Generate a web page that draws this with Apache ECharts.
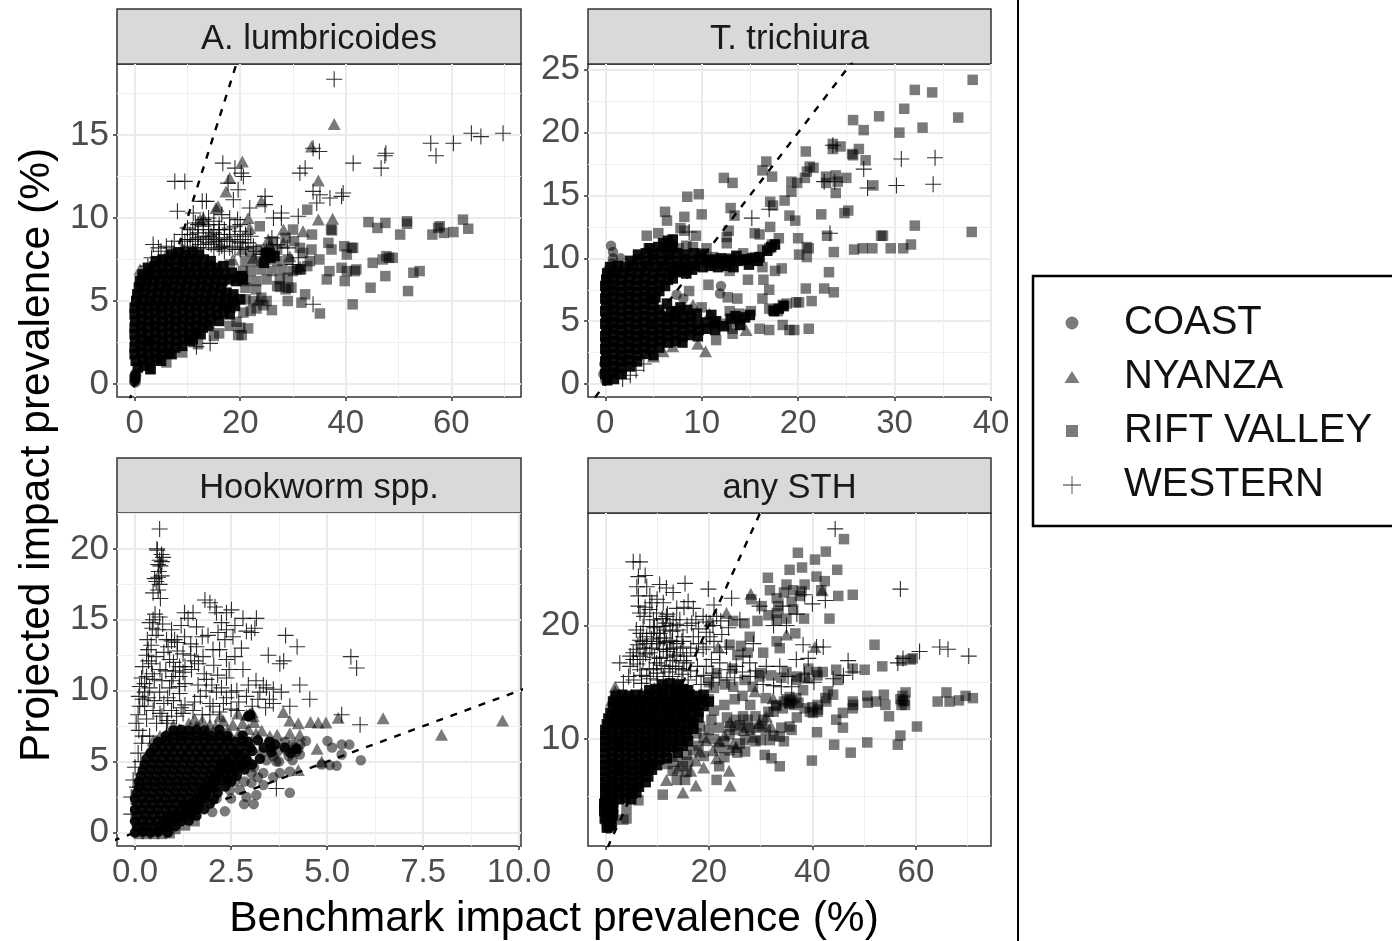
<!DOCTYPE html>
<html><head><meta charset="utf-8">
<style>html,body{margin:0;padding:0;background:#fff}#c{width:1392px;height:941px}</style>
<script src="https://cdn.jsdelivr.net/npm/echarts@6/dist/echarts.min.js"></script>
</head><body><div id="c"></div>
<script>
const regions = ['COAST','NYANZA','RIFT VALLEY','WESTERN'];
const panelTitles = ['A. lumbricoides','T. trichiura','Hookworm spp.','any STH'];
const identityLine = [[-20,-20],[120,120]];

// ---- A. lumbricoides
const lumbCoast = [[0,0.2],[0.1,0.3],[0.2,0.4],[-0.1,0.15],[0,0.5],[0.1,0.6],[0.2,0.25],[0.05,0.35],[0.3,0.5],[0.15,0.1],[-0.05,0.45],[0.25,0.65]];
const lumbNyanza = [[37.8,15.65],[33.5,14.3],[20.4,13.4],[34.8,12.25],[18,12.4],[17.3,11.6],[24,11],[15.8,10.7],[15.4,10.6],[13,10],[12.4,9.9],[21.5,10],[21.8,9.4],[34.8,9.9],[37.5,9.95],[25.3,8.7],[28.2,9.3],[31.9,9.2],[28.2,8.5],[1,6.9],[1,6.4],[0.7,5.7],[19.1,5.2],[17.1,4.9],[31.3,7.1],[29.4,7.7],[25.6,8.3],[22.5,7.6],[20.3,8.1],[16.2,8.4],[1.6,6.1],[2.4,6.6],[3.3,7],[4.6,7.5],[6,7.8],[7.5,8],[9,8.2],[14.5,9.1],[18.6,7.5],[23.5,5.1],[14,3.7]];
const lumbRift = [[32.7,10.5],[44.3,9.75],[47.5,9.7],[46,9.4],[51.6,9.8],[51.6,9.65],[50.3,9],[62.2,9.9],[63.2,9.35],[57.8,9.5],[57.5,9.4],[56.4,9],[58.6,9.1],[60.4,9.15],[37.2,9.3],[37.4,9.25],[30,9.3],[33.6,9],[36.7,8.5],[39.7,8.3],[41.1,8.2],[41.4,8.2],[40.2,7.8],[37.3,8.1],[33.5,8.1],[35,7.5],[48.2,7.6],[47.7,7.7],[47,7.5],[45.1,7.3],[48.9,7.6],[39.2,7],[42,6.9],[41.7,6.8],[40.2,6.8],[36.9,6.8],[36.4,6.3],[39.8,6.2],[47.5,6.5],[44.7,5.8],[54,6.8],[52.8,6.7],[51.8,5.6],[41.3,4.8],[35.1,4.25],[31.6,4.9],[32.3,5.4],[29.1,5.8],[29.7,5.8],[27.5,5.85],[29,5],[32.7,7.1],[31.3,6.9],[30.7,6.9],[31.9,7.9],[31.3,8.2],[26,4.45],[25,5],[24.4,4.75],[23.1,4.55],[21.5,3.35],[20.3,2.95],[19.6,2.95],[20.6,4.3],[19.3,3.75],[16,3.05],[25.6,7.9],[24.7,7.8],[20,6.5],[19.3,6.4],[23.7,9.5],
[22,8],[24,8.1],[25.5,8],[27,8.1],[21,7.4],[23,7.4],[25,7.5],[27,7.4],[29,7.5],[20.5,6.8],[22,6.8],[24,6.9],[26,6.8],[28,6.9],[30,6.8],[31.5,6.9],[21,6.2],[23,6.2],[25,6.3],[27.5,6.3],[29,6.4],[21,5.8],[23,5.7],[27,5.9],[28.6,5.7],[21,5.1],[22.5,5],[24,5.2],[22,4.4],[20,3.4],[18,3.5],[15,2.9],[12,2.4],[9,1.9],[6,1.3],[3,0.9],[18,7.2],[28.6,8.8],[30.2,8.6],[26.2,8.6],[33.2,7.4]];
const lumbCore = [[0.6,1],[1.9,1.1],[3,0.9],[0.2,1.4],[1.5,1.5],[2.8,1.4],[4.1,1.5],[5,1.4],[0,1.8],[1.3,1.9],[2.6,1.8],[3.9,1.9],[5.2,1.8],[6.5,1.9],[7,1.8],[0,2.2],[1.2,2.3],[2.5,2.2],[3.8,2.3],[5.1,2.2],[6.4,2.3],[7.7,2.2],[9,2.3],[0.1,2.6],[1.4,2.7],[2.7,2.6],[4,2.7],[5.3,2.6],[6.6,2.7],[7.9,2.6],[9.2,2.7],[10.5,2.6],[11,2.7],[0,3],[1.3,3.1],[2.6,3],[3.9,3.1],[5.2,3],[6.5,3.1],[7.8,3],[9.1,3.1],[10.4,3],[11.7,3.1],[12.5,3],[0,3.4],[1.2,3.5],[2.5,3.4],[3.8,3.5],[5.1,3.4],[6.4,3.5],[7.7,3.4],[9,3.5],[10.3,3.4],[11.6,3.5],[12.9,3.4],[14,3.5],[0.1,3.8],[1.4,3.9],[2.7,3.8],[4,3.9],[5.3,3.8],[6.6,3.9],[7.9,3.8],[9.2,3.9],[10.5,3.8],[11.8,3.9],[13.1,3.8],[14.4,3.9],[16,3.8],[0,4.2],[1.3,4.3],[2.6,4.2],[3.9,4.3],[5.2,4.2],[6.5,4.3],[7.8,4.2],[9.1,4.3],[10.4,4.2],[11.7,4.3],[13,4.2],[14.3,4.3],[15.6,4.2],[16.9,4.3],[18,4.2],[0,4.6],[1.2,4.7],[2.5,4.6],[3.8,4.7],[5.1,4.6],[6.4,4.7],[7.7,4.6],[9,4.7],[10.3,4.6],[11.6,4.7],[12.9,4.6],[14.2,4.7],[15.5,4.6],[16.8,4.7],[18.1,4.6],[19,4.7],[0.3,5],[1.6,5.1],[2.9,5],[4.2,5.1],[5.5,5],[6.8,5.1],[8.1,5],[9.4,5.1],[10.7,5],[12,5.1],[13.3,5],[14.6,5.1],[15.9,5],[17.2,5.1],[18.5,5],[20,5.1],[0.5,5.4],[1.8,5.5],[3.1,5.4],[4.4,5.5],[5.7,5.4],[7,5.5],[8.3,5.4],[9.6,5.5],[10.9,5.4],[12.2,5.5],[13.5,5.4],[14.8,5.5],[16.1,5.4],[17.4,5.5],[18.7,5.4],[0.8,5.8],[2.1,5.9],[3.4,5.8],[4.7,5.9],[6,5.8],[7.3,5.9],[8.6,5.8],[9.9,5.9],[11.2,5.8],[12.5,5.9],[13.8,5.8],[15.1,5.9],[16.4,5.8],[1,6.2],[2.3,6.3],[3.6,6.2],[4.9,6.3],[6.2,6.2],[7.5,6.3],[8.8,6.2],[10.1,6.3],[11.4,6.2],[12.7,6.3],[14,6.2],[15.3,6.3],[16.6,6.2],[17.9,6.3],[19.2,6.2],[20.5,6.3],[1.5,6.6],[2.8,6.7],[4.1,6.6],[5.4,6.7],[6.7,6.6],[8,6.7],[9.3,6.6],[10.6,6.7],[11.9,6.6],[13.2,6.7],[14.5,6.6],[15.8,6.7],[17.1,6.6],[18.4,6.7],[2.5,7],[3.8,7.1],[5.1,7],[6.4,7.1],[7.7,7],[9,7.1],[10.3,7],[11.6,7.1],[12.9,7],[14.2,7.1],[15.5,7],[16.8,7.1],[4,7.4],[5.3,7.5],[6.6,7.4],[7.9,7.5],[9.2,7.4],[10.5,7.5],[11.8,7.4],[13.1,7.5],[14.4,7.4],[7,7.8],[8.3,7.9],[9.6,7.8],[10.9,7.9],[12.2,7.8],[25,7.9],[25.7,7.6],[24.5,7.3],[26.5,7.7],[20.3,6.5]];
const lumbWestern = [[37.8,18.35],[69.8,15.1],[65.6,14.9],[63.8,15.1],[60.4,14.5],[56.1,14.5],[57.1,13.75],[47.6,13.9],[47.4,13.75],[46.7,13],[41.4,13.3],[35,14],[33.8,14.2],[32.3,13],[31.3,12.7],[39.5,11.5],[39.2,11.3],[37,11.2],[35.1,11.4],[33.8,11.6],[34.5,10.9],[27.8,10.3],[27.8,10],[26.3,10],[31,10.1],[24.7,11.3],[24.7,10.8],[21.8,10.6],[20.2,12.7],[20.6,12.5],[19,13],[16.7,13.3],[19.6,11.7],[17.7,12.1],[18.7,11.1],[13.6,11],[7.6,12.2],[9.5,12.2],[8.1,10.4],[11.1,10.3],[33.8,4.8],[11.7,2.25],[14.3,2.45],[4.5,8.2],[3.2,7.6],[10,8.7],[12,8.8],[14,8.9],[16,8.6],[18,8.7],[20,8.5],[11,9.3],[13,9.5],[15,9.1],[17,9.3],[21,8.2],[13,9.9],[15,9.8],[9,8.2],[11,8],[13,8.2],[15,8.1],[17,8],[19,8.1],[23,8],[24,7.8],[19.5,9.9],[16.5,10.2],[12.8,11],[26,8.8],[6,8.3],[7.5,8.6],[30,7.2],
[9.5,8.6],[10.5,8.3],[11.5,8.6],[12.5,8.4],[13.5,8.7],[14.5,8.4],[15.5,8.7],[16.5,8.3],[17.5,8.6],[18.5,8.3],[19.5,8.6],[20.5,8.7],[21.5,8.5],[22.5,8.3],[10.5,9],[12,9.1],[14,9.3],[16,9],[18,9],[19,9.5],[11.5,9.7],[14,10],[16,9.6],[18,10],[20,9.2],[22,8.9],[9,9],[7,8.2],[5,8],[3.5,8.4],[2.5,7.1],[25,8],[27,8.4],[29,8.2],[31,7.6],
[10,8.2],[12,8.2],[14,8.5],[16,8.2],[18,8.2],[20,8.1],[11,8.7],[13,8.9],[15,8.6],[17,8.8],[19,8.9],[21,9],[10,9.4],[12,9.6],[14,9.6],[16,9.3],[18,9.4],[20,9.6]];

// ---- T. trichiura
const triCoast = [[0.6,11],[0.8,10.5],[0.8,10],[1.6,10],[0.7,9.6],[12,7.8],[11.9,7.2],[8.1,6.8],[7.4,7.1],[0.5,8.5],[0.1,6.7],[0.3,9.1],[1,9.3],[0.2,8],[0.9,7.7],[0.1,7.3],[1.2,8.8],[0.4,6.1],[0.2,5.3],[0.3,4.5],[0,3.4],[0.1,2.5],[-0.1,1.6],[-0.2,0.8],[0,0.3],[0.2,0.5]];
const triNyanza = [[10.4,2.6],[9.6,3.2],[14.6,4.3],[9.1,6.3],[10.8,5.6],[5,2.2],[7,3],[6,2.6]];
const triRift = [[38.1,24.2],[32.1,23.4],[33.9,23.2],[31,21.9],[36.6,21.2],[25.7,21],[28.4,21.3],[32.9,20.4],[26.8,20.2],[30.5,20],[23.6,19.1],[23.6,18.7],[24.4,18.9],[26.3,18.7],[25.6,18.3],[25.7,18.2],[20.8,18.5],[27,17.8],[16.7,17.7],[16.3,17],[17.3,16.5],[21.2,17.3],[21.6,17.2],[20.9,16.9],[20.7,16.4],[19.3,16.1],[19.9,16],[12.3,16.4],[13.2,16],[22.9,16.5],[22.9,16],[23.9,16.6],[24.1,16.1],[25,16.4],[23.9,15.2],[27.8,15.8],[8.5,14.9],[9.7,15.1],[19.3,15.3],[18.6,14.6],[17.1,14.5],[17.4,14.2],[13,14],[25.2,13.8],[24.8,13.6],[22.4,13.5],[19.1,13.4],[19.7,13],[13.4,13.4],[10,13.5],[8.2,13.3],[6.2,13.7],[6.4,13],[17.1,12.5],[32.1,12.6],[38,12.1],[12.8,12.2],[15.5,12],[16,11.9],[18,11.6],[23,11.8],[20,11.6],[28.6,11.8],[28.8,11.8],[31.7,11.1],[30.9,10.8],[29.6,10.8],[27.7,10.8],[26.7,10.8],[25.8,10.7],[23.7,10.5],[20.9,10.9],[21.1,10.8],[20.1,10.3],[20.9,10.1],[17.3,11.1],[17,10.8],[16.3,10.7],[12.6,11.7],[12.6,11.2],[10.5,10.8],[4.3,11.8],[5.5,12],[8.2,12.2],[7.8,12.4],[9.4,11.8],[9.1,10.9],[12.9,10],[14.3,10.4],[15.5,10.1],[11.5,9.7],[16.3,9.3],[18.3,9.2],[17.6,9],[12.9,9],[14.8,8.3],[16.4,8.3],[23.2,8.9],[10.7,7.9],[8.7,7.4],[17,7.5],[20.8,7.6],[22.7,7.6],[23.7,7.3],[12.7,6.9],[13.7,6.8],[16.3,6.8],[21.4,6.6],[20.1,6.5],[19.8,6.5],[18.8,6.4],[18.4,6.3],[17.4,5.9],[17.9,5.8],[17,6],[15.1,5.8],[13.9,5.6],[12.9,5.8],[10,6.1],[21.1,4.4],[19.6,4.3],[19.1,4.3],[18.4,4.7],[17,4.3],[16,4.4],[13.2,4],[11.5,3.5],[12.6,4.8],[13.9,5.1],[13.2,4.4],[6.8,11.1],[7.6,10.8],[8.4,11],[4.5,10.8],[10.2,10.4],[11.2,10.1]];
const triCore = [[0.2,0.3],[0.9,0.4],[0,0.8],[0.8,0.9],[1.7,0.8],[0.1,1.3],[0.9,1.4],[1.7,1.3],[2.6,1.4],[0,1.8],[0.8,1.9],[1.6,1.8],[2.4,1.9],[3.3,1.8],[0.1,2.3],[0.9,2.4],[1.7,2.3],[2.5,2.4],[3.3,2.3],[4.2,2.4],[5,2.3],[0,2.8],[0.8,2.9],[1.6,2.8],[2.4,2.9],[3.2,2.8],[4,2.9],[4.8,2.8],[5.6,2.9],[0.1,3.3],[0.9,3.4],[1.7,3.3],[2.5,3.4],[3.3,3.3],[4.1,3.4],[4.9,3.3],[5.7,3.4],[6.5,3.3],[7.3,3.4],[8,3.3],[0,3.8],[0.8,3.9],[1.6,3.8],[2.4,3.9],[3.2,3.8],[4,3.9],[4.8,3.8],[5.6,3.9],[6.4,3.8],[7.2,3.9],[8,3.8],[8.8,3.9],[9.6,3.8],[0.1,4.3],[0.9,4.4],[1.7,4.3],[2.5,4.4],[3.3,4.3],[4.1,4.4],[4.9,4.3],[5.7,4.4],[6.5,4.3],[7.3,4.4],[8.1,4.3],[8.9,4.4],[9.7,4.3],[10.5,4.4],[11.4,4.3],[0,4.8],[0.8,4.9],[1.6,4.8],[2.4,4.9],[3.2,4.8],[4,4.9],[4.8,4.8],[5.6,4.9],[6.4,4.8],[7.2,4.9],[8,4.8],[8.8,4.9],[9.6,4.8],[10.4,4.9],[11.3,4.8],[0.1,5.3],[0.9,5.4],[1.7,5.3],[2.5,5.4],[3.3,5.3],[4.1,5.4],[4.9,5.3],[5.7,5.4],[6.5,5.3],[7.3,5.4],[8.1,5.3],[8.9,5.4],[0,5.8],[0.8,5.9],[1.6,5.8],[2.4,5.9],[3.2,5.8],[4,5.9],[4.8,5.8],[5.6,5.9],[6.8,5.7],[7.4,5.8],[0.1,6.3],[0.9,6.4],[1.7,6.3],[2.5,6.4],[3.3,6.3],[4.1,6.4],[5,6.3],[0,6.8],[0.8,6.9],[1.6,6.8],[2.4,6.9],[3.2,6.8],[4,6.9],[4.8,6.8],[5.2,6.9],[0.1,7.3],[0.9,7.4],[1.7,7.3],[2.5,7.4],[3.3,7.3],[4.1,7.4],[4.9,7.3],[5.6,7.4],[0,7.8],[0.8,7.9],[1.6,7.8],[2.4,7.9],[3.2,7.8],[4,7.9],[4.8,7.8],[5.6,7.9],[6.2,7.8],[0.1,8.3],[0.9,8.4],[1.7,8.3],[2.5,8.4],[3.3,8.3],[4.1,8.4],[4.9,8.3],[5.7,8.4],[6.5,8.3],[7,8.4],[0.2,8.8],[1,8.9],[1.8,8.8],[2.6,8.9],[3.4,8.8],[4.2,8.9],[5,8.8],[5.8,8.9],[6.6,8.8],[7.4,8.9],[8.4,8.8],[0.5,9.3],[1.3,9.4],[2.1,9.3],[2.9,9.4],[3.7,9.3],[4.5,9.4],[5.3,9.3],[6.1,9.4],[6.9,9.3],[7.7,9.4],[8.5,9.3],[9.3,9.4],[10.1,9.3],[10.9,9.4],[11.7,9.3],[12.5,9.4],[13.3,9.3],[14.9,9.5],[2.6,9.8],[3.4,9.9],[4.2,9.8],[5,9.9],[5.8,9.8],[6.6,9.9],[7.4,9.8],[8.2,9.9],[9,9.8],[9.8,9.9],[10.6,9.8],[11.4,9.9],[12.2,9.8],[13,9.9],[13.8,9.8],[14.6,9.9],[15.8,9.8],[3.4,10.3],[4.2,10.4],[5,10.3],[5.8,10.4],[6.6,10.3],[7.4,10.4],[8.2,10.3],[9.2,10.4],[10,10.3],[4.6,10.8],[5.5,10.9],[6.3,10.8],[7,10.9],[6.5,11.4],[6,11.2],[7,11.5],
[10.5,9.9],[11.3,9.6],[12,10],[12.8,9.7],[13.6,10.2],[14.4,9.9],[15.2,10],[16,10.1],[16.8,10.6],[17.2,10.9],[17.6,11.1],[11.5,5],[12.3,4.6],[13,5.2],[14,4.7],[15,5.5],[17.5,5.8],[18,6],[18.5,6.2],[13.5,5.4],[14.5,5.3],[11,5.5],[9.5,5.6],[8.5,5.9],[7.8,6.1],[6.4,6.4],[7,9],[8,9],[9,9.1]];
const triWestern = [[30.7,17.9],[34.2,18],[26.8,17.1],[30.2,15.8],[34,15.9],[27.2,15.6],[23.6,19],[22.7,16.1],[23.8,16.1],[17,13.9],[15.2,13.2],[23.3,12],[8.7,12.1],[3.2,1.1],[2.6,0.7],[1.8,0.4],[4,1.6]];

// ---- Hookworm spp.
const hookCoast = [[5.88,5.1],[5.58,6.2],[5.38,6.2],[5.01,6.45],[5.13,6],[5.38,5.5],[5.25,4.7],[5.07,4.75],[4.86,4.8],[4.45,6.45],[4.29,5.5],[4.03,2.8],[4.03,4.3],[3.77,4.2],[3.68,5],[3.34,4.2],[3.03,4.2],[3.03,3.5],[3.34,3.35],[3.16,2.65],[3.09,2],[2.84,2],[2.34,1.5],[2.01,1.45],[2.12,2.4],[2.47,3],[2.73,3],[2.9,2.5],[3.6,3.9],[3.94,5.8],[4.2,5.7],[3.42,5.1],[3.6,5.4],[3.3,5.6],[4.1,5.1],[4.25,5.9],[4.1,6.2],[3.7,5.7],[2.85,3.6],[3.2,3.9],[2.6,3.6],[2.5,2.4],[3.75,5],[4,5.4],[4.15,6],[3.9,6.4],[4.3,6.2],[3.1,4.6],[2.95,5]];
const hookNyanza = [[9.57,7.9],[6.46,8.05],[7.98,6.9],[5.29,8.1],[4.97,7.75],[4.77,7.75],[4.57,7.8],[4.25,7.7],[4.03,7.9],[3.86,8.5],[2.99,8.4],[2.9,8.3],[3.08,8.2],[2.68,8.4],[2.55,7.6],[2.21,8.2],[4.29,6.9],[4.74,5.9],[4.86,5],[4.25,4.4],[3.51,6.8],[4.03,7],[0.47,6.5],[0.82,7],[1.6,7.5],[1.95,7.6],[1.15,7.3],[1.4,7.7],[1.75,7.9],[2.1,7.5],[2.4,7.2],[2.7,7],[3.1,7.8],[2.95,7.3],[3.3,7.2],[3.7,6.9],[1,7.6],[0.65,6.8],[3.15,7],[2.5,6.8],[1.9,7.2],[2.2,6.9],[1.3,7.1],[0.9,6.7],[0.4,5.9],[2.3,7.9],[2.8,7.7],[3.05,8.5],[1.55,8]];
const hookRift = [[0.1,-0.1],[0.3,-0.1],[0.5,-0.1],[0.7,-0.1],[0.9,-0.05],[1.05,0.25],[1.3,0.5],[1.55,0.8],[0.2,0.2],[0.6,0.2]];
const hookCore = [[2.9,5.2],[2.75,4.7],[2.55,4.1],[2.4,3.7],[2.7,5.5],[3.05,5.75],[3.35,6],[3.5,6.4],[3.2,6.5],[2.95,6.4],[3.65,6.2],[2.4,5],[2.2,4.3],[2.1,3.6],[2,3.1],[1.85,2.7],[1.7,2.2],[1.55,1.9],[1.4,1.5],[1.2,1.1],[1,0.8],[0.8,0.6],[2.5,4.6],[2.3,4.7],[2.1,4.1],[1.95,3.4],[1.75,2.9],[1.6,2.4],[1.3,1.8],[1.1,1.3],[0.9,1],[0,0],[0.2,0.05],[0.4,0],[0.6,0.05],[0.85,0],[0.05,0.4],[0.25,0.45],[0.45,0.4],[0.65,0.45],[0.85,0.4],[1.05,0.45],[0,0.8],[0.2,0.85],[0.4,0.8],[0.6,0.85],[0.8,0.8],[1,0.85],[1.2,0.8],[1.4,0.85],[0.05,1.2],[0.25,1.25],[0.45,1.2],[0.65,1.25],[0.85,1.2],[1.05,1.25],[1.25,1.2],[1.45,1.25],[1.6,1.2],[0,1.6],[0.2,1.65],[0.4,1.6],[0.6,1.65],[0.8,1.6],[1,1.65],[1.2,1.6],[1.4,1.65],[1.6,1.6],[1.8,1.65],[0.05,2],[0.25,2.05],[0.45,2],[0.65,2.05],[0.85,2],[1.05,2.05],[1.25,2],[1.45,2.05],[1.65,2],[1.95,2.05],[0,2.4],[0.2,2.45],[0.4,2.4],[0.6,2.45],[0.8,2.4],[1,2.45],[1.2,2.4],[1.4,2.45],[1.6,2.4],[1.8,2.45],[2.05,2.4],[0.05,2.8],[0.25,2.85],[0.45,2.8],[0.65,2.85],[0.85,2.8],[1.05,2.85],[1.25,2.8],[1.45,2.85],[1.65,2.8],[1.85,2.85],[2.15,2.8],[0.1,3.2],[0.3,3.25],[0.5,3.2],[0.7,3.25],[0.9,3.2],[1.1,3.25],[1.3,3.2],[1.5,3.25],[1.7,3.2],[1.9,3.25],[2.1,3.2],[2.35,3.25],[0.1,3.6],[0.3,3.65],[0.5,3.6],[0.7,3.65],[0.9,3.6],[1.1,3.65],[1.3,3.6],[1.5,3.65],[1.7,3.6],[1.9,3.65],[2.1,3.6],[2.3,3.65],[2.5,3.6],[0.15,4],[0.35,4.05],[0.55,4],[0.75,4.05],[0.95,4],[1.15,4.05],[1.35,4],[1.55,4.05],[1.75,4],[1.95,4.05],[2.15,4],[2.35,4.05],[2.65,4],[0.2,4.4],[0.4,4.45],[0.6,4.4],[0.8,4.45],[1,4.4],[1.2,4.45],[1.4,4.4],[1.6,4.45],[1.8,4.4],[2,4.45],[2.2,4.4],[2.4,4.45],[2.6,4.4],[2.85,4.45],[0.25,4.8],[0.45,4.85],[0.65,4.8],[0.85,4.85],[1.05,4.8],[1.25,4.85],[1.45,4.8],[1.65,4.85],[1.85,4.8],[2.05,4.85],[2.25,4.8],[2.45,4.85],[2.65,4.8],[2.85,4.85],[3.05,4.8],[0.3,5.2],[0.5,5.25],[0.7,5.2],[0.9,5.25],[1.1,5.2],[1.3,5.25],[1.5,5.2],[1.7,5.25],[1.9,5.2],[2.1,5.25],[2.3,5.2],[2.5,5.25],[2.7,5.2],[3.25,5.2],[0.4,5.6],[0.6,5.65],[0.8,5.6],[1,5.65],[1.2,5.6],[1.4,5.65],[1.6,5.6],[1.8,5.65],[2,5.6],[2.2,5.65],[2.4,5.6],[2.6,5.65],[2.85,5.6],[3.55,5.65],[0.5,6],[0.7,6.05],[0.9,6],[1.1,6.05],[1.3,6],[1.5,6.05],[1.7,6],[1.9,6.05],[2.1,6],[2.3,6.05],[2.5,6],[2.75,6.05],[3,6],[3.55,6],[0.6,6.4],[0.8,6.45],[1,6.4],[1.2,6.45],[1.4,6.4],[1.6,6.45],[1.8,6.4],[2,6.45],[2.2,6.4],[2.4,6.45],[2.6,6.4],[2.8,6.45],[0.8,6.8],[1,6.85],[1.2,6.8],[1.4,6.85],[1.6,6.8],[1.8,6.85],[2,6.8],[2.2,6.85],[2.4,6.8],[2.8,6.85],[1,7.2],[1.2,7.25],[1.4,7.2],[1.6,7.25],[1.8,7.2],[2.2,7.25],[4.05,5.6],[4.2,5.9],[3.9,6],[3,8.3],[2.95,8.2]];
const hookWestern = [[0.64,21.4],[0.57,20],[0.69,19.6],[0.64,19.2],[0.73,19.4],[0.6,18.9],[0.66,18.8],[0.6,18],[0.69,18.1],[0.51,17.9],[0.64,17.5],[0.6,17.1],[0.47,16.9],[1.82,16.4],[1.95,16.2],[2.08,15.9],[2.12,15.5],[2.51,15.7],[2.38,15.5],[2.81,15.1],[3.16,15.1],[3.12,14.4],[3.03,14.1],[1.29,15.5],[1.51,15.5],[1.38,15.1],[1.6,14.5],[0.47,15],[0.38,14.8],[0.64,15.2],[0.6,14.3],[0.82,13.6],[0.95,13.5],[0.86,13.1],[1.03,13.6],[1.29,13.8],[2.16,14.1],[2.38,14.3],[2.55,13.8],[2.34,13.6],[2.77,13],[3.92,13.9],[4.22,13.1],[3.47,12.5],[3.77,11.9],[3.87,12.1],[5.62,12.4],[5.77,11.6],[2.03,12.9],[1.77,12.4],[2.38,12.2],[2.81,11.5],[1.6,13.1],[1.25,12.6],[0.34,12.9],[0.43,11.9],[1.16,11.7],[1.47,11.5],[0.99,11],[1.16,11],[1.86,10.8],[2.38,10.9],[3.34,10.4],[3.42,10.2],[4.29,10.4],[3.81,9.9],[4.55,9.4],[0.3,11],[0.17,10.9],[0.38,10.2],[0.64,9.9],[1.16,9.8],[1.64,10.4],[2.12,9.9],[2.51,9.9],[2.38,9.5],[2.9,9.6],[3.2,9.4],[3.6,9.1],[4.03,8.9],[0.2,9.4],[0.34,9.5],[0.47,8.6],[0.03,7.7],[0.56,7.7],[1.08,8.2],[2.03,8.9],[1.51,8.6],[5.38,8.3],[5.86,7.6],[3.68,3.1],[0.2,6.8],[0.17,6.3],[0.08,5.6],[0,4.6],[-0.05,3.7],[-0.1,2.5],[-0.1,1.3],[0.12,8.9],[0.38,6.8],[0.82,7.7],[0.55,13.9],[0.42,13.2],[0.72,14.7],[0.9,12.2],[1.1,12.8],[1.45,13.3],[1.9,13.9],[2.2,12.9],[2.6,12.4],[0.25,10.5],[0.45,11.2],[0.7,10.7],[0.9,10.2],[1.3,10.5],[1.7,9.6],[1.95,9.1],[2.3,9.1],[2.7,9.2],[3.05,8.9],[3.4,8.8],[0.3,8],[0.65,8.4],[1.3,9],[1.75,8.3],[2.5,8.7],[1,9.3],[0.75,9.1],[0.25,9.9],[1.05,11.4],[1.25,11.3],[0.55,12.4],[0.35,12.1],[1.55,12.1],[1.8,11.2],[2.15,11.1],[3.15,10.7],[3.6,10.1],[0.1,7.2],[0.15,5],[0.05,3.2],
[0.58,19.9],[0.7,19.1],[0.62,18.4],[0.55,17.7],[0.66,16.5],[0.52,15.4],[0.45,14.4],[0.32,13.6],[0.3,12.5],[0.2,11.7],[0.12,10.3],[0.1,9.6],[0.08,8.3],[0.25,8.9],[0.5,9.3],[0.5,10.8],[0.65,11.5],[0.8,11.4],[0.95,10.7],[1.15,10.3],[1.3,11.7],[1.45,12.5],[1.0,12],[0.75,12.7],[0.95,14.3],[1.2,14.6],[1.1,13.4],[0.85,9.5],[0.95,8.6],[1.25,8.4],[1.55,9.2],[1.65,11.9],[1.85,10],[2,10.4],[2.25,10.2],[2.65,10],[2.95,10.4],[3.25,9.9],[3.5,9.4],[2.2,8.5],[2.65,8.6],[1.95,8.3],[1.2,8.8],[0.7,8.2],[0.85,7.9],[2.45,11.5],[2.05,11.8],[1.75,13.8],[2.25,14.8],[2.6,14.6],[2.9,14.2]];

// ---- any STH
const anyCoast = [[0.3,2.2],[0.6,2.1],[0.9,2.3],[1.2,2.2],[0,2.7],[0.4,2.8],[0.8,2.6],[1.2,2.8],[1.6,2.7],[-0.1,3.2],[0.3,3.3],[0.7,3.2],[1.1,3.3],[1.5,3.2],[-0.2,3.7],[0.2,3.8],[0.6,3.7],[1,3.8],[1.5,3.7],[-0.2,4.2],[0.2,4.3],[0.6,4.2],[1,4.3],[1.5,4.2],[0,4.7],[0.3,5.2],[0,5.7],[0.3,6.2]];
const anyNyanza = [[41.9,23.1],[28.1,22.8],[35,19.2],[40.5,18.1],[39.2,15.4],[28.9,14.2],[32.4,13.6],[24.1,5.9],[23.9,7.2],[17.5,5.9],[15,5.3],[1.9,14.6],[1.9,14.2],[1.2,13.4],[23.4,21.1],[20.2,20.4],[21.8,18.1],[25.3,9.3],[21.5,8.3],[24.7,9.6],[28.5,10.2],[31.1,12],[24.1,11.5],[20.8,9],[11.8,6.4],[18.3,8.9],[19,7.5],[22,9.8],[17.5,8.1],[26.8,10.8],[29.7,11.4],[32,11.1],[23,10.3],[19.5,9.9],[3.5,13.6],[5,13.9],[7,14.1],[2.5,13.2],[11.5,14.8],[14,15],[9.5,14.5],[16.5,7.2],[14,7.4],[13,8.5]];
const anyRift = [[46.1,27.6],[37.2,26.4],[42.6,26.5],[40.5,25.8],[38,25.1],[35.6,24.9],[44.8,24.9],[31.4,24.2],[40.8,24.3],[42.4,23.9],[35,23.6],[31.8,23.1],[38.5,23.6],[36.3,23.1],[41.7,23.1],[45,22.6],[47.8,22.7],[33.1,22.4],[28.2,22.3],[37.6,22.6],[30.2,21.7],[33.4,21.7],[36.3,21.4],[33.1,21.1],[35,20.6],[38.4,20.6],[43.3,20.6],[33.1,20.5],[29.4,20.4],[26.9,20.2],[24.7,20.4],[36.7,19.3],[27.9,19],[52,18.3],[33.1,18.6],[33.7,18],[30.5,17.6],[24,18.3],[59.4,17.1],[59,17],[57.2,16.9],[53.5,16.4],[50.1,16.1],[47.8,16.2],[44.6,16.1],[40.8,15.9],[39.2,16.2],[45,15.2],[36.9,15.2],[29.8,15.5],[26.9,15.2],[23.1,14.8],[65.9,14.1],[71,13.6],[69.6,13.8],[68.3,13.4],[66.5,13.3],[64.2,13.3],[58,14.1],[57.8,13.4],[57.5,13.3],[57.2,13],[53.8,13.9],[54.1,13],[54.8,12],[50.6,13.8],[50.7,13.2],[52.3,13.3],[47.8,13.3],[47.8,12.7],[44,13.9],[42.7,13.3],[41.1,12.6],[40.1,12.3],[39.5,12.4],[45.9,12.3],[44.6,11.7],[45.9,11],[40.9,10.6],[60.2,11.1],[57,10.3],[56.5,9.5],[50.6,9.7],[44.2,9.5],[47.4,8.8],[39.9,8.1],[33.7,7.6],[32.1,8.3],[30.8,8.6],[38.2,14.3],[35.6,13.1],[34.3,12.7],[36.9,13.6],[35.6,13.7],[33.7,10.2],[31.8,9.9],[35.6,11.1],[30.2,11.1],[26.6,12],[25.3,11.7],[24.1,11.1],[21.5,6.4],[15.7,7.1],[13.8,6.4],[11.1,5.1],[6.4,4.6],[4.1,3],[3.5,2.9],[4.1,3.9],[15.4,6.4],[24.7,14.6],[18.3,11.1],[17.6,10.5],[13.1,9.3],[15.7,8.6],[28,13],[31,13.6],[33,13],[30,9.9],[27,8.9],[24,9],[22,7.6],[19,8.5],[27,11],[29,12],[21,12.5],[23,13],[20,13.5],
[34.5,13.3],[35,13.5],[35.5,13.2],[36,13.4],[36.5,13],[37.3,13.2],[33,12.9],[32.5,12.4],[31.5,12.4],[30.5,11.7],[29,11],[27.5,11.7],[26,11.2],[25,10.8],[24,10.4],[23,9.8],[22,9.2],[21,10],[20,10.8],[19,10.1],[18,9.4],[17,9],[16,8],[15,7.6],[14,8],[13,7.2],[12,7.8],[29,9.8],[28,10.8],[27,9.9],[26,9.6],[25.5,8.8],[23,8.4],[31,10.8],[32.5,10.3],[34,11],[34.5,9.8],[36,10.8],[37,11.9],[38.5,12.7],[40,12.8],[41,13],[42.5,13.6],[43,14.2],[21,14.5],[20,15],[25,13.5],[26.5,13.8],[28.5,14.6],[30,15.8],[32,15.6],[34,15.4],[35,15.9],[37,15.5],[38.5,15.4],[41,15.6],[42,15.9],[25.5,17.4],[27.5,17.6],[24.5,16.2],[26.2,18.2],[21.5,15.8],[57.4,13.8],[57.9,13],[57,13.5],[47.9,13],[41,12.4],[31.5,20.9],[34.5,22.9],[36,22.1],[37.9,23],[23.5,11.9],[22,11],[20.5,11.7]];
const anyCore = [[0,4.7],[1.3,4.8],[2.6,4.7],[3.9,4.8],[5,4.7],[0,5.2],[1.3,5.3],[2.6,5.2],[3.9,5.3],[5.2,5.2],[6,5.3],[0,5.7],[1.3,5.8],[2.6,5.7],[3.9,5.8],[5.2,5.7],[6.5,5.8],[0,6.2],[1.3,6.3],[2.6,6.2],[3.9,6.3],[5.2,6.2],[6.5,6.3],[7.8,6.2],[0,6.7],[1.3,6.8],[2.6,6.7],[3.9,6.8],[5.2,6.7],[6.5,6.8],[8.3,6.7],[0,7.2],[1.3,7.3],[2.6,7.2],[3.9,7.3],[5.2,7.2],[6.5,7.3],[7.8,7.2],[9,7.3],[0,7.7],[1.3,7.8],[2.6,7.7],[3.9,7.8],[5.2,7.7],[6.5,7.8],[7.8,7.7],[9.1,7.8],[10,7.7],[0,8.2],[1.3,8.3],[2.6,8.2],[3.9,8.3],[5.2,8.2],[6.5,8.3],[7.8,8.2],[9.1,8.3],[10.4,8.2],[11.9,8.3],[0,8.8],[1.3,8.9],[2.6,8.8],[3.9,8.9],[5.2,8.8],[6.5,8.9],[7.8,8.8],[9.1,8.9],[10.4,8.8],[11.7,8.9],[14,8.8],[0,9.3],[1.3,9.4],[2.6,9.3],[3.9,9.4],[5.2,9.3],[6.5,9.4],[7.8,9.3],[9.1,9.4],[10.4,9.3],[11.7,9.4],[13,9.3],[15,9.4],[0,9.8],[1.3,9.9],[2.6,9.8],[3.9,9.9],[5.2,9.8],[6.5,9.9],[7.8,9.8],[9.1,9.9],[10.4,9.8],[11.7,9.9],[13,9.8],[14.3,9.9],[16,9.8],[0,10.3],[1.3,10.4],[2.6,10.3],[3.9,10.4],[5.2,10.3],[6.5,10.4],[7.8,10.3],[9.1,10.4],[10.4,10.3],[11.7,10.4],[13,10.3],[14.3,10.4],[15.8,10.3],[0,10.8],[1.3,10.9],[2.6,10.8],[3.9,10.9],[5.2,10.8],[6.5,10.9],[7.8,10.8],[9.1,10.9],[10.4,10.8],[11.7,10.9],[13,10.8],[14.3,10.9],[15.6,10.8],[17,10.9],[0.3,11.3],[1.6,11.4],[2.9,11.3],[4.2,11.4],[5.5,11.3],[6.8,11.4],[8.1,11.3],[9.4,11.4],[10.7,11.3],[12,11.4],[13.3,11.3],[14.6,11.4],[15.9,11.3],[17,11.4],[0.6,11.8],[1.9,11.9],[3.2,11.8],[4.5,11.9],[5.8,11.8],[7.1,11.9],[8.4,11.8],[9.7,11.9],[11,11.8],[12.3,11.9],[13.6,11.8],[14.9,11.9],[16.2,11.8],[18,11.9],[1,12.3],[2.3,12.4],[3.6,12.3],[4.9,12.4],[6.2,12.3],[7.5,12.4],[8.8,12.3],[10.1,12.4],[11.4,12.3],[12.7,12.4],[14,12.3],[15.3,12.4],[16.6,12.3],[18,12.4],[1.5,12.8],[2.8,12.9],[4.1,12.8],[5.4,12.9],[6.7,12.8],[8,12.9],[9.3,12.8],[10.6,12.9],[11.9,12.8],[13.2,12.9],[14.5,12.8],[15.8,12.9],[17.1,12.8],[19,12.9],[1.5,13.3],[2.8,13.4],[4.1,13.3],[5.4,13.4],[6.7,13.3],[8,13.4],[9.3,13.3],[10.6,13.4],[11.9,13.3],[13.2,13.4],[14.5,13.3],[15.8,13.4],[17.1,13.3],[18.4,13.4],[20,13.3],[2,13.8],[3.3,13.9],[4.6,13.8],[5.9,13.9],[7.2,13.8],[8.5,13.9],[9.8,13.8],[11.1,13.9],[12.4,13.8],[13.7,13.9],[15,13.8],[16.3,13.9],[17.6,13.8],[19,13.9],[8.5,14.3],[9.8,14.4],[11.1,14.3],[12.4,14.4],[13.7,14.3],[15,14.4],[16,14.3],[11,14.8],[12.5,14.9],[14,14.8],[0.3,2.2],[0.8,2.4],[1.2,2.5],[-0.1,3],[0.5,3.1],[1.1,3],[1.5,3.3],[-0.2,3.7],[0.4,3.8],[1,3.7],[1.5,3.9],[-0.2,4.3],[0.4,4.2],[1,4.3],[1.5,4.4]];
const anyWestern = [[44.4,28.5],[57,23.2],[5.4,25.6],[6.7,25.6],[6.4,24.3],[7.7,24.4],[6.1,23.4],[8,23.4],[10.5,23.6],[15.4,23.7],[19.9,23.2],[24.4,22.4],[16,22.1],[13.1,22.9],[11.8,23.3],[6.4,21.7],[8.6,21.4],[6.7,21.1],[11.2,22],[70.2,17.3],[64.6,18.1],[66.2,17.9],[60.7,17.7],[57.5,17.1],[56.5,16.7],[46.9,16.9],[47.8,15.9],[42.1,18.1],[40.8,18.1],[38.2,18.3],[39.2,17.1],[36.9,17],[33.7,16.4],[31.1,16.4],[35.3,15.5],[32.5,14.7],[29.8,21.7],[38.5,22.7],[34.3,21.7],[28.6,18.4],[26.6,17.3],[23.4,18.1],[26,20.5],[21.5,20.8],[18.9,20.8],[16.7,20.2],[2.8,16.7],[4.8,17.3],[6,17.9],[8,18.4],[9.3,19.3],[11.2,19.9],[12.5,18.7],[15,19],[17.6,17.6],[10.5,17.9],[13.8,17.3],[15.7,16.7],[19.5,16.4],[22.1,16.7],[25.3,16.4],[27.9,16.7],[7.3,19.9],[6,19.6],[13.1,20.5],[9.3,20.5],[11.2,17.9],[7.3,17],[5.4,17],[6.7,18.7],[9.9,18.6],[11.8,20.8],[14.4,20.5],[15,18.1],[17,19],[8.6,19.9],[5.4,17.6],[20.2,19],[18.9,17.9],[8.6,22.6],[9.9,21.1],[6.4,22.6],[10.5,19.3],[12.5,17.9],[8.6,17.6],[15.7,17.3],[13.8,18.4],[22.1,17.6],[19.5,18.1],[17.6,15.5],[20.8,15.8],[24.1,16.1],[6.7,17.3],[9.9,16.7],[12.5,16.4],[15,16.1],[6.7,16.1],[4.8,16.4],[8,15.5],[10,15.8],[11.5,16.2],[13,15.5],[16,15.2],[18.5,14.8],[7,14.9],[5.5,15.2],[11.5,19.6],[10.6,18.9],[13,19.5],[12,21],[10,22.3],[7.5,20.8],[17,21.5],[21,21.8],[20.5,17],[18,19.7],
[7,15.6],[8.5,16.2],[9.5,17.2],[10.8,16.5],[11.8,17.2],[13,16.9],[14.2,16.2],[15.2,16.9],[16.5,16],[17.8,16.4],[19,15.6],[20.5,15],[22,15.4],[23.5,15.2],[25,15.4],[26.5,15.9],[6.2,16.6],[7.8,17.5],[9,18],[10.2,18.4],[11.8,18.5],[13.2,18],[14.5,17.6],[16.5,18],[18,18.4],[19.5,19.4],[21,18.6],[22.5,19.2],[23.8,19.8],[8,19],[9.5,19.8],[11,20.6],[12.5,20],[14,19.6],[15.8,20],[17.5,20.5],[19.5,20.3],[20.8,20],[22.3,20.4],[6.3,18.3],[7.2,18.6],[7.7,21.6],[9,22],[13.8,21.5],[15.2,21.6],[4.5,15.5],[3.5,15],[29,16],[28,15.5],[30.5,14.8],[34,14.6],[36,14.6],[38.5,15.7],[40.3,15],[44,15.3],[46,15.6],[35,20],[32.5,20],[37,21],[40,21.9],[42.5,22.2],
[10,15.2],[11.2,15.5],[12.3,15.9],[13.6,16.4],[14.8,15.7],[8.7,15.3],[9.3,16.1],[10.5,17.1],[12,17.7],[13.3,17.4],[14.8,18.6],[11.4,18.9],[12.9,18.6],[10,19.9],[11.7,20.2],[13.7,20.1],[8.9,18.8],[7.5,18],[6.8,19.3]];

const coastIcon = 'path://M-9 -9h0.01v0.01zM9 9h0.01v0.01zM6.5 0A6.5 6.5 0 1 1 -6.5 0A6.5 6.5 0 1 1 6.5 0Z';
const nyanzaIcon = 'path://M-9 -9h0.01v0.01zM9 9h0.01v0.01zM0 -6L7.5 6H-7.5Z';
const riftIcon = 'path://M-9 -9h0.01v0.01zM9 9h0.01v0.01zM-6 -6H6V6H-6Z';
const westernIcon = 'path://M-0.4 -9H0.4V-0.4H9V0.4H0.4V9H-0.4V0.4H-9V-0.4H-0.4Z';
const plusPath = 'path://M-0.55 -8H0.55V-0.55H8V0.55H0.55V8H-0.55V0.55H-8V-0.55H-0.55Z';

const marks = [
 {sym:'circle',size:10.5},
 {sym:'triangle',size:[13,12]},
 {sym:'rect',size:10.5},
 {sym:plusPath,size:16}
];
const panels = [
 {left:117,top:64,w:404,h:333,xr:[-3.35,73.2],yr:[-0.78,19.27],xt:[0,20,40,60],yt:[0,5,10,15],xm:[10,30,50,70],ym:[2.5,7.5,12.5,17.5],d:[lumbCoast,lumbNyanza,lumbRift,lumbWestern],core:lumbCore,coreRegion:2},
 {left:588,top:64,w:403,h:333,xr:[-1.79,40],yr:[-1.03,25.46],xt:[0,10,20,30,40],yt:[0,5,10,15,20,25],xm:[5,15,25,35],ym:[2.5,7.5,12.5,17.5,22.5],d:[triCoast,triNyanza,triRift,triWestern],core:triCore,coreRegion:2},
 {left:117,top:513,w:404,h:333,xr:[-0.47,10.05],yr:[-0.95,22.53],xt:[0,2.5,5,7.5,10],yt:[0,5,10,15,20],xm:[1.25,3.75,6.25,8.75],ym:[2.5,7.5,12.5,17.5,22.5],fmt:v=>v.toFixed(1),d:[hookCoast,hookNyanza,hookRift,hookWestern],core:hookCore,coreRegion:0},
 {left:588,top:513,w:403,h:333,xr:[-3.34,74.5],yr:[0.58,29.9],xt:[0,20,40,60],yt:[10,20],xm:[10,30,50,70],ym:[5,15,25],d:[anyCoast,anyNyanza,anyRift,anyWestern],core:anyCore,coreRegion:2}
];

const FONT = '"Liberation Sans",Arial,sans-serif';
const grid=[],xAxis=[],yAxis=[],series=[],graphic=[];
const major={show:true,lineStyle:{color:'#ebebeb',width:2}};
const minor={show:true,lineStyle:{color:'#efefef',width:1}};
const mainAxis=(i,r,t,fmt,pos,isY)=>({type:'value',gridIndex:i,position:pos,min:r[0],max:r[1],scale:true,
  axisLine:{show:false,onZero:false},
  axisTick:{show:true,length:4,customValues:t,lineStyle:{color:'#333',width:1.5}},
  axisLabel:{show:true,customValues:t,color:'#4d4d4d',fontSize:isY?35:33,fontFamily:FONT,margin:isY?8:10,padding:isY?[6,0,0,0]:0,formatter:fmt||(v=>String(v)),hideOverlap:false},
  splitLine:major,minorTick:{show:false},minorSplitLine:{show:false}});
const minorAxis=(i,r,t,pos)=>({type:'value',gridIndex:i,position:pos,min:r[0],max:r[1],scale:true,
  axisLine:{show:false,onZero:false},axisTick:{show:false,customValues:t},
  axisLabel:{show:false,customValues:t},splitLine:minor});

panels.forEach((p,i)=>{
  grid.push({left:p.left,top:p.top,width:p.w,height:p.h,show:true,backgroundColor:'#fff',borderColor:'#333',borderWidth:1.5,containLabel:false});
  graphic.push({type:'rect',shape:{x:p.left,y:p.top-55,width:p.w,height:55},style:{fill:'#d9d9d9',stroke:'#333',lineWidth:1.5},silent:true});
  graphic.push({type:'text',x:p.left+p.w/2,y:p.top-25,style:{text:panelTitles[i],fill:'#1a1a1a',font:'34.5px '+FONT,textAlign:'center',textVerticalAlign:'middle'},silent:true});
});
panels.forEach((p,i)=>{
  xAxis.push(minorAxis(i,p.xr,p.xm,'top'));
  yAxis.push(minorAxis(i,p.yr,p.ym,'right'));
});
const alphaOf=k=>k===3?0.82:0.52;
panels.forEach((p,i)=>{
  xAxis.push(mainAxis(i,p.xr,p.xt,p.fmt,'bottom',false));
  yAxis.push(mainAxis(i,p.yr,p.yt,null,'left',true));
  const scatter=(name,data,m,opacity,z)=>series.push({type:'scatter',name,xAxisIndex:i+4,yAxisIndex:i+4,data,symbol:m.sym,symbolSize:m.size,
      itemStyle:{color:'#000',opacity,borderWidth:0},silent:true,clip:true,z,animation:false,progressive:0,large:false});
  regions.forEach((name,k)=>scatter(name,p.d[k],marks[k],alphaOf(k),3));
  scatter(regions[p.coreRegion],p.core,marks[p.coreRegion],0.93,3);
  series.push({type:'line',name:'identity',xAxisIndex:i+4,yAxisIndex:i+4,data:identityLine,showSymbol:false,symbol:'none',clip:true,silent:true,z:4,
    lineStyle:{color:'#000',width:2.4,type:[7,8]},animation:false});
});
graphic.push({type:'line',shape:{x1:1018,y1:0,x2:1018,y2:941},style:{stroke:'#000',lineWidth:2},silent:true});
graphic.push({type:'rect',shape:{x:1033,y:276,width:380,height:250},style:{fill:'#fff',stroke:'#000',lineWidth:2.5},silent:true});
graphic.push({type:'text',rotation:Math.PI/2,x:37,y:455,style:{text:'Projected impact prevalence (%)',fill:'#000',font:'42.5px '+FONT,textAlign:'center',textVerticalAlign:'middle'},silent:true});
graphic.push({type:'text',x:554,y:919,style:{text:'Benchmark impact prevalence (%)',fill:'#000',font:'42.5px '+FONT,textAlign:'center',textVerticalAlign:'middle'},silent:true});

const chart=echarts.init(document.getElementById('c'),null,{renderer:'canvas'});
chart.setOption({
  animation:false,backgroundColor:'#fff',textStyle:{fontFamily:FONT},
  grid,xAxis,yAxis,series,
  graphic:{elements:graphic.map(g=>Object.assign({z:g.type==='rect'||g.type==='line'?0:10},g))},
  legend:{show:true,orient:'vertical',left:1063,top:303,padding:0,itemWidth:94,itemHeight:18,itemGap:14,selectedMode:false,z:20,
    textStyle:{fontFamily:FONT,fontSize:40,color:'#111'},
    data:[{name:'COAST',icon:coastIcon},{name:'NYANZA',icon:nyanzaIcon},{name:'RIFT VALLEY',icon:riftIcon},{name:'WESTERN',icon:westernIcon}]}
});
</script></body></html>
